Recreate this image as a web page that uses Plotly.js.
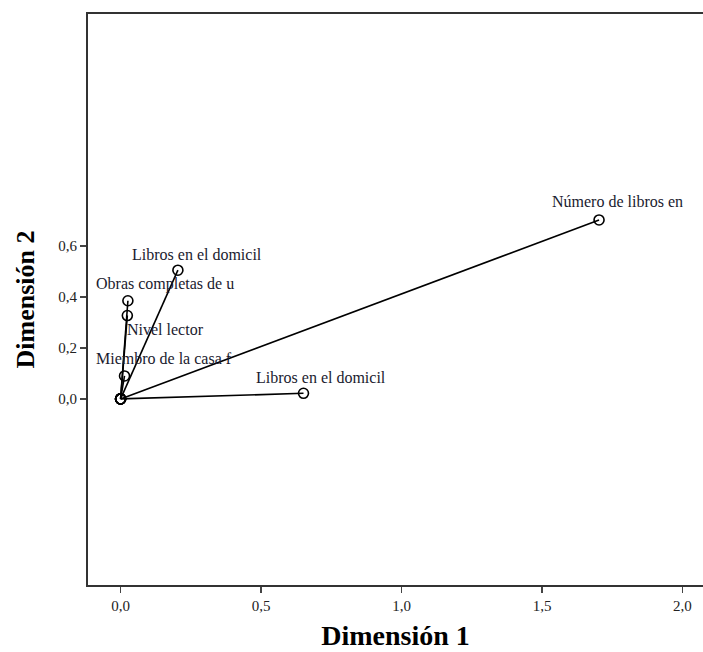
<!DOCTYPE html>
<html>
<head>
<meta charset="utf-8">
<script src="https://cdn.plot.ly/plotly-3.0.1.min.js"></script>
<style>
  html, body { margin: 0; padding: 0; background: #fff; }
  #chart { width: 703px; height: 652px; }
</style>
</head>
<body>
<div id="chart"></div>
<script>
// Medidas de discriminación: cada variable se dibuja como un vector desde el origen
const variables = [
  'Número de libros en',
  'Libros en el domicil',
  'Obras completas de u',
  'Nivel lector',
  'Miembro de la casa f',
  'Libros en el domicil'
];
const dim1 = [1.703, 0.204, 0.026, 0.024, 0.014, 0.651];
const dim2 = [0.702, 0.505, 0.385, 0.327, 0.090, 0.022];

// Desplazamiento (px) de cada etiqueta respecto a su punto
const labelDx = [18, 19, 37, 38, 39, 18];
const labelDy = [18, 16, 17, -14, 17, 16];

const serif = 'Liberation Serif';

const traces = variables.map((name, i) => ({
  type: 'scatter',
  mode: 'lines+markers',
  x: [0, dim1[i]],
  y: [0, dim2[i]],
  name: name,
  line: { color: '#000', width: 1.6 },
  marker: {
    symbol: 'circle-open',
    size: 10,
    color: '#000',
    line: { color: '#000', width: 1.6 }
  },
  hoverinfo: 'skip',
  showlegend: false,
  cliponaxis: false
}));

const annotations = variables.map((name, i) => ({
  x: dim1[i],
  y: dim2[i],
  xref: 'x',
  yref: 'y',
  text: name,
  showarrow: false,
  xanchor: 'center',
  yanchor: 'middle',
  xshift: labelDx[i],
  yshift: labelDy[i],
  font: { family: serif, size: 16, color: '#1a1a2e' }
}));

const layout = {
  width: 703,
  height: 652,
  margin: { l: 88, r: 0, t: 14, b: 67 },
  paper_bgcolor: '#fff',
  plot_bgcolor: '#fff',
  showlegend: false,
  font: { family: serif },
  xaxis: {
    range: [-0.116, 2.073],
    tickvals: [0, 0.5, 1.0, 1.5, 2.0],
    ticktext: ['0,0', '0,5', '1,0', '1,5', '2,0'],
    ticks: 'outside',
    ticklen: 6,
    tickwidth: 1.6,
    tickcolor: '#444',
    showgrid: false,
    zeroline: false,
    showline: true,
    linecolor: '#333',
    linewidth: 2,
    mirror: true,
    tickfont: { family: serif, size: 15, color: '#222' },
    title: {
      text: '<b>Dimensión 1</b>',
      font: { family: serif, size: 28, color: '#000' },
      standoff: 12
    }
  },
  yaxis: {
    range: [-0.73, 1.51],
    tickvals: [0, 0.2, 0.4, 0.6],
    ticktext: ['0,0', '0,2', '0,4', '0,6'],
    ticks: 'outside',
    ticklen: 6,
    tickwidth: 1.6,
    tickcolor: '#444',
    showgrid: false,
    zeroline: false,
    showline: true,
    linecolor: '#333',
    linewidth: 2,
    mirror: false,
    tickfont: { family: serif, size: 15, color: '#222' },
    title: {
      text: '<b>Dimensión 2</b>',
      font: { family: serif, size: 26, color: '#000' },
      standoff: 16
    }
  },
  annotations: annotations
};

Plotly.newPlot('chart', traces, layout, { displayModeBar: false, staticPlot: true });
</script>
</body>
</html>
